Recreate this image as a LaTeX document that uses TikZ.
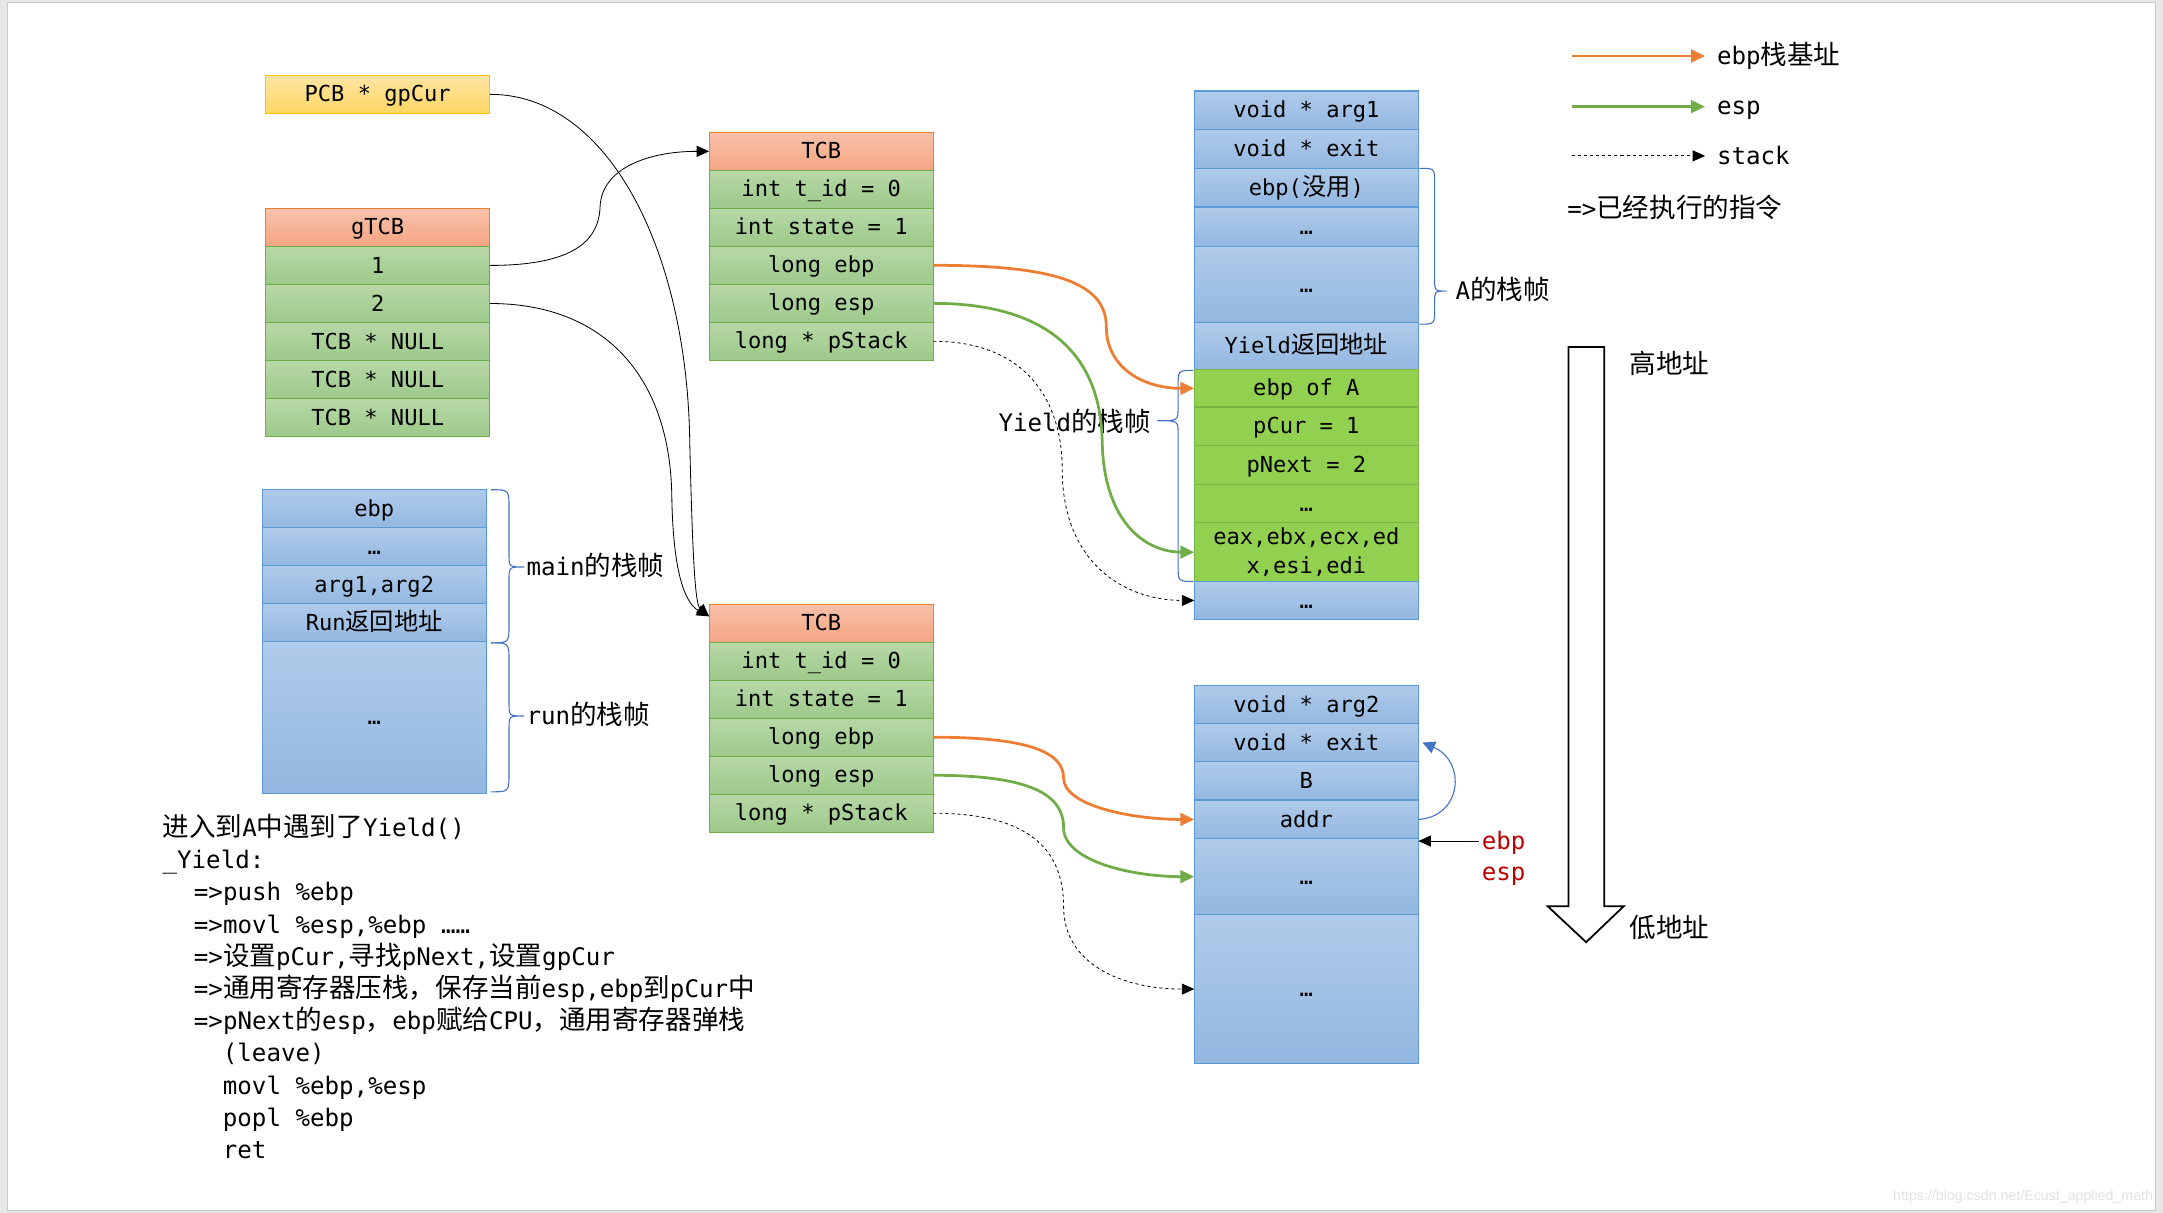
\documentclass[tikz,border=0pt]{standalone}
\usepackage{fontspec}
\setmainfont{DejaVu Sans Mono}
\newfontfamily\cjk{Noto Sans CJK SC}[Scale=1.1]
\newfontfamily\wmfont{Liberation Sans}
\usetikzlibrary{arrows.meta}
\newcommand\zh[1]{{\cjk #1}}
\newcommand\cellfont{\fontsize{16}{19}\selectfont}
\newcommand\labfont{\fontsize{17.5}{21}\selectfont}
\definecolor{pagebg}{HTML}{E7E7E7}
\definecolor{slideborder}{HTML}{C8C8C8}
\definecolor{gtop}{HTML}{B7D8A7}
\definecolor{gbot}{HTML}{9DC98A}
\definecolor{gborder}{HTML}{70AD47}
\definecolor{otop}{HTML}{F8C1AA}
\definecolor{obot}{HTML}{F4A582}
\definecolor{oborder}{HTML}{ED7D31}
\definecolor{ytop}{HTML}{FFE5A3}
\definecolor{ybot}{HTML}{FFD664}
\definecolor{yborder}{HTML}{FFC000}
\definecolor{btop}{HTML}{B0CBEA}
\definecolor{bbot}{HTML}{93B7E1}
\definecolor{bborder}{HTML}{5B9BD5}
\definecolor{lgreen}{HTML}{92D050}
\definecolor{lgborder}{HTML}{78B446}
\definecolor{orangec}{HTML}{ED7D31}
\definecolor{greenc}{HTML}{70AD47}
\definecolor{bracec}{HTML}{4472C4}
\definecolor{redc}{HTML}{C00000}
\definecolor{wmgray}{HTML}{E2E2E2}
\newcommand\bracepath[8]{%
  \draw[brc] (#1,#4) .. controls (#2,#4) .. (#2,#4+#7) -- (#2,#5-#8)
    .. controls (#2,#5) .. (#3,#5) .. controls (#2,#5) .. (#2,#5+#8)
    -- (#2,#6-#7) .. controls (#2,#6) .. (#1,#6);}
\begin{document}
\begin{tikzpicture}[x=1pt,y=-1pt,
  cellbase/.style={draw, line width=0.9pt, minimum width=162.5pt, inner sep=0pt, outer sep=0pt, font=\cellfont},
  txt/.style={text height=11pt, text depth=0pt},
  gc/.style={cellbase, txt, draw=gborder, top color=gtop, bottom color=gbot, minimum height=27.6pt},
  oc/.style={cellbase, txt, draw=oborder, top color=otop, bottom color=obot, minimum height=27.6pt},
  yc/.style={cellbase, txt, draw=yborder, top color=ytop, bottom color=ybot, minimum height=27.5pt},
  bc/.style={cellbase, txt, draw=bborder, top color=btop, bottom color=bbot},
  lgc/.style={cellbase, txt, draw=lgborder, fill=lgreen},
  lab/.style={inner sep=0pt, font=\labfont, text height=12pt, text depth=0pt},
  orarr/.style={draw=orangec, line width=2pt, -{Triangle[length=10pt,width=9pt]}},
  grarr/.style={draw=greenc, line width=2pt, -{Triangle[length=10pt,width=9pt]}},
  dotarr/.style={draw=black, line width=0.6pt, dash pattern=on 2.2pt off 2.2pt, -{Triangle[length=9pt,width=8pt]}},
  blkarr/.style={draw=black, line width=0.6pt, -{Triangle[length=9pt,width=8pt]}},
  brc/.style={draw=bracec, line width=0.8pt},
  bluarr/.style={draw=bracec, line width=0.8pt, -{Triangle[length=9pt,width=9pt]}}
]
\useasboundingbox (0,0) rectangle (1568,879);
\fill[pagebg] (0,0) rectangle (1568,879);
\draw[slideborder, line width=1pt, fill=white] (5.5,2) rectangle (1562.5,877.5);

% PCB
\node[yc] (pcb) at (273.8,68.4) {PCB * gpCur};
% gTCB
\node[oc] (gh) at (273.8,164.8) {gTCB};
\node[gc] (g1) at (273.8,192.4) {1};
\node[gc] (g2) at (273.8,220) {2};
\node[gc] (g3) at (273.8,247.6) {TCB * NULL};
\node[gc] (g4) at (273.8,275.2) {TCB * NULL};
\node[gc] (g5) at (273.8,302.8) {TCB * NULL};

% TCB 1
\node[oc] (t1h) at (595.3,109.7) {TCB};
\node[gc] (t1id) at (595.3,137.2) {int t\_id = 0};
\node[gc] (t1st) at (595.3,164.8) {int state = 1};
\node[gc] (t1ebp) at (595.3,192.3) {long ebp};
\node[gc] (t1esp) at (595.3,219.9) {long esp};
\node[gc] (t1ps) at (595.3,247.4) {long * pStack};

% TCB 2
\node[oc] (t2h) at (595.3,451.8) {TCB};
\node[gc] (t2id) at (595.3,479.3) {int t\_id = 0};
\node[gc] (t2st) at (595.3,506.9) {int state = 1};
\node[gc] (t2ebp) at (595.3,534.4) {long ebp};
\node[gc] (t2esp) at (595.3,562) {long esp};
\node[gc] (t2ps) at (595.3,589.5) {long * pStack};

% main / run stack
\node[bc, minimum height=27.5pt] (m1) at (271.3,368.75) {ebp};
\node[bc, minimum height=27.5pt] (m2) at (271.3,396.25) {…};
\node[bc, minimum height=27.5pt] (m3) at (271.3,423.75) {arg1,arg2};
\node[bc, minimum height=27.5pt] (m4) at (271.3,451.25) {Run\zh{返回地址}};
\node[bc, minimum height=110pt] (m5) at (271.3,520) {…};

% stack A
\node[bc, minimum height=28pt] (a1) at (947,80) {void * arg1};
\node[bc, minimum height=28pt] (a2) at (947,108) {void * exit};
\node[bc, minimum height=28pt] (a3) at (947,136) {ebp(\zh{没用})};
\node[bc, minimum height=28.5pt] (a4) at (947,164.25) {…};
\node[bc, minimum height=55.5pt] (a5) at (947,206.25) {…};
\node[bc, minimum height=34pt] (a6) at (947,251) {Yield\zh{返回地址}};
\node[lgc, minimum height=27pt] (a7) at (947,281.5) {ebp of A};
\node[lgc, minimum height=28pt] (a8) at (947,309) {pCur = 1};
\node[lgc, minimum height=28pt] (a9) at (947,337) {pNext = 2};
\node[lgc, minimum height=28pt] (a10) at (947,365) {…};
\node[cellbase, draw=lgborder, fill=lgreen, minimum height=42.5pt, align=center,
      font=\fontsize{16}{21.5}\selectfont] (a11) at (947,400.25) {eax,ebx,ecx,ed\\x,esi,edi};
\node[bc, minimum height=27.5pt] (a12) at (947,435.25) {…};

% stack B
\node[bc, minimum height=27.5pt] (b1) at (947,510.75) {void * arg2};
\node[bc, minimum height=27.5pt] (b2) at (947,538.25) {void * exit};
\node[bc, minimum height=28pt] (b3) at (947,566) {B};
\node[bc, minimum height=28pt] (b4) at (947,594) {addr};
\node[bc, minimum height=55pt] (b5) at (947,635.5) {…};
\node[bc, minimum height=108pt] (b6) at (947,717) {…};

% braces and their labels
\bracepath{356}{369}{380}{355}{411}{466}{14}{9}
\bracepath{356}{369}{380}{466}{519}{574}{14}{9}
\bracepath{1029}{1040}{1049}{122}{211}{235}{11}{8}
\bracepath{865}{854}{839}{268.5}{305}{421.5}{12}{9}
\node[lab, anchor=west] (lmain) at (381.5,411) {main\zh{的栈帧}};
\node[lab, anchor=west] (lrun) at (381.5,519) {run\zh{的栈帧}};
\node[lab, anchor=west] (lA) at (1055,211) {A\zh{的栈帧}};
\node[lab, anchor=east] (lY) at (834.5,307) {Yield\zh{的栈帧}};

% pointers from gpCur and gTCB
\draw[blkarr] (pcb.east) .. controls (440,68) and (498,180) .. (500,320)
  .. controls (502,405) and (504,438) .. ([yshift=5pt]t2h.west);
\draw[blkarr] (g1.east) .. controls (410,192.4) and (434,178) .. (435,150)
  .. controls (436,122) and (470,109.7) .. (t1h.west);
\draw[blkarr] (g2.east) .. controls (440,220) and (486,275) .. (487,360)
  .. controls (488,420) and (498,438) .. ([yshift=5pt]t2h.west);

% TCB1 -> stack A
\draw[orarr] (t1ebp.east) .. controls (765,192.3) and (802,205) .. (802,237)
  .. controls (802,266) and (828,281.5) .. (a7.west);
\draw[grarr] (t1esp.east) .. controls (765,219.9) and (798,262) .. (799,320)
  .. controls (800,378) and (830,400.25) .. (a11.west);
\draw[dotarr] (t1ps.east) .. controls (745,247.4) and (770,292) .. (770,340)
  .. controls (770,408) and (815,435.25) .. (a12.west);

% TCB2 -> stack B
\draw[orarr] (t2ebp.east) .. controls (745,534.4) and (771,545) .. (771,564)
  .. controls (771,584) and (820,594) .. (b4.west);
\draw[grarr] (t2esp.east) .. controls (745,562) and (771,575) .. (771,600)
  .. controls (771,624) and (820,635.5) .. (b5.west);
\draw[dotarr] (t2ps.east) .. controls (745,589.5) and (771,615) .. (771,657)
  .. controls (771,700) and (815,717) .. (b6.west);

% addr -> exit
\draw[bluarr] (b4.east) .. controls (1060,592) and (1063,552) .. ([xshift=3pt]b2.east);

% ebp / esp red labels
\node[lab, anchor=west, inner xsep=1.5pt, text=redc] (ebpl) at (1072.5,609.7) {ebp};
\node[lab, anchor=west, inner xsep=1.5pt, text=redc] (espl) at (1072.5,632.6) {esp};
\draw[blkarr] (ebpl.west) -- (ebpl.west -| b5.east);

% legend
\node[lab, anchor=west] (leg1) at (1244.5,40.6) {ebp\zh{栈基址}};
\node[lab, anchor=west] (leg2) at (1244.5,77.3) {esp};
\node[lab, anchor=west] (leg3) at (1244.5,113) {stack};
\node[lab, anchor=west] (leg4) at (1136,152) {=>\zh{已经执行的指令}};
\coordinate (lo1) at (1139.5,40.6);
\coordinate (lo2) at (1139.5,77.3);
\coordinate (lo3) at (1139.5,113);
\draw[orarr] (lo1) -- ([xshift=-8.5pt]leg1.west);
\draw[grarr] (lo2) -- ([xshift=-8.5pt]leg2.west);
\draw[dotarr] (lo3) -- ([xshift=-8.5pt]leg3.west);

% big hollow arrow
\draw[line width=1.3pt, fill=white, line join=miter]
  (1137,251.5) -- (1163,251.5) -- (1163,657) -- (1177,657) -- (1149.8,683)
  -- (1122,657) -- (1137,657) -- cycle;
\node[lab, anchor=west] (hi) at (1181,264.6) {\zh{高地址}};
\node[lab, anchor=west] (lo) at (1181,673.5) {\zh{低地址}};

% code text
\node[lab, anchor=west] (l1) at (117.7,600.5) {\zh{进入到}A\zh{中遇到了}Yield()};
\node[lab, anchor=west] (l2) at (117.7,623.8) {\_Yield:};
\node[lab, anchor=west] (l3) at (140.4,647.1) {=>push \%ebp};
\node[lab, anchor=west] (l4) at (140.4,670.5) {=>movl \%esp,\%ebp ……};
\node[lab, anchor=west] (l5) at (140.4,693.8) {=>\zh{设置}pCur,\zh{寻找}pNext,\zh{设置}gpCur};
\node[lab, anchor=west] (l6) at (140.4,717.1) {=>\zh{通用寄存器压栈，保存当前}esp,ebp\zh{到}pCur\zh{中}};
\node[lab, anchor=west] (l7) at (140.4,740.4) {=>pNext\zh{的}esp\zh{，}ebp\zh{赋给}CPU\zh{，通用寄存器弹栈}};
\node[lab, anchor=west] (l8) at (161.4,763.7) {(leave)};
\node[lab, anchor=west] (l9) at (161.4,787.1) {movl \%ebp,\%esp};
\node[lab, anchor=west] (l10) at (161.4,810.4) {popl \%ebp};
\node[lab, anchor=west] (l11) at (161.4,833.7) {ret};

% watermark
\node[anchor=base east, inner sep=0pt, text=wmgray, font=\wmfont\fontsize{10.3}{12}\selectfont] (wm) at (1561,870) {https://blog.csdn.net/Ecust\_applied\_math};
\end{tikzpicture}
\end{document}
